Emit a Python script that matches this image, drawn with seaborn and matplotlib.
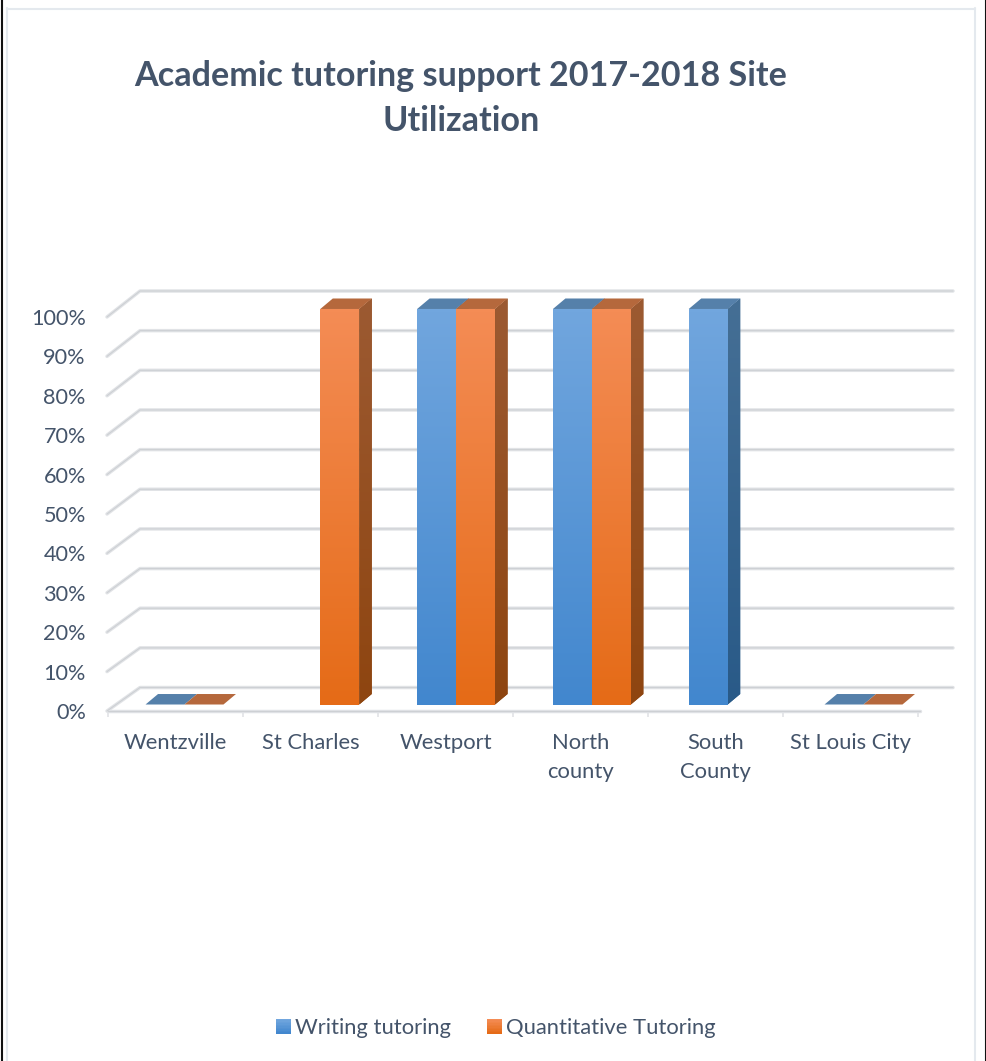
import numpy as np
import pandas as pd
import matplotlib
matplotlib.use("Agg")
import matplotlib.pyplot as plt
import seaborn as sns
from matplotlib.lines import Line2D
from matplotlib.patches import Polygon, Rectangle
from matplotlib.legend_handler import HandlerBase
from matplotlib.colors import LinearSegmentedColormap

# Site utilisation; NaN marks a service with no entry at that site
sites = ["Wentzville", "St Charles", "Westport", "North\ncounty", "South\nCounty", "St Louis City"]
writing = [0, np.nan, 100, 100, 100, 0]
quantitative = [0, 100, 100, 100, np.nan, 0]
services = ["Writing tutoring", "Quantitative Tutoring"]
percent_ticks = [0, 10, 20, 30, 40, 50, 60, 70, 80, 90, 100]
title = "Academic tutoring support 2017-2018 Site\nUtilization"

W, H = 986, 1061
TEXT = "#44546A"
FONT = "Lato"
GRID = "#E1E3E6"
GRID_DARK = "#CDD0D4"
palette = {
    services[0]: dict(top="#71A6DE", bottom="#4287CE", side_top="#456F95", side_bottom="#295A88", cap="#5580AA"),
    services[1]: dict(top="#F48C55", bottom="#E56B17", side_top="#9C5A32", side_bottom="#8E4510", cap="#B5683C"),
}

sns.set_theme(style="white")
plt.rcParams["font.family"] = [FONT, "DejaVu Sans"]

fig = plt.figure(figsize=(W / 100, H / 100), dpi=100, facecolor="white")
ax = fig.add_axes([108 / W, 1 - 711 / H, (918 - 108) / W, (711 - 291) / H])

# Pixel layout of the drawing area
def to_x(px):
    return (px - 184.5) / 135.8

def to_y(py):
    return (705 - py) / 3.96

table = pd.DataFrame({"site": sites, services[0]: writing, services[1]: quantitative})
long_table = table.melt(id_vars="site", var_name="service", value_name="share")
sns.barplot(
    data=long_table, x="site", y="share", hue="service", order=sites, hue_order=services,
    palette={s: palette[s]["bottom"] for s in services}, width=0.574, gap=0, dodge=True,
    legend=False, ax=ax, zorder=4, linewidth=0,
)

xlim = (to_x(108), to_x(918))
ylim = (to_y(711), to_y(291))

# Back wall gridlines and their returns towards the value labels
def grid_line(xs, ys):
    ax.add_line(Line2D(xs, ys, color=GRID, lw=2.5, clip_on=False, zorder=1, solid_capstyle="round"))
    ax.add_line(Line2D(xs, ys, color=GRID_DARK, lw=0.8, clip_on=False, zorder=1.1))

front_y = []
for v in percent_ticks:
    back = 688 - v * 3.97
    front = 711.5 - v * 3.945
    front_y.append(front)
    grid_line([to_x(107), to_x(140), to_x(953)], [to_y(front), to_y(back), to_y(back)])
grid_line([to_x(108), to_x(920)], [to_y(711.5), to_y(711.5)])

DX = 12.5 / 135.8
DY = 10.5 / 3.96

def gradient_fill(points, c_top, c_bottom, zorder):
    poly = Polygon(points, closed=True, facecolor=c_bottom, edgecolor="none", zorder=zorder)
    ax.add_patch(poly)
    xs = [p[0] for p in points]
    ys = [p[1] for p in points]
    cmap = LinearSegmentedColormap.from_list("face", [c_bottom, c_top])
    ramp = np.linspace(1, 0, 128).reshape(-1, 1)
    im = ax.imshow(ramp, cmap=cmap, vmin=0, vmax=1, aspect="auto", interpolation="bilinear",
                   extent=(min(xs), max(xs), min(ys), max(ys)), zorder=zorder + 0.01)
    im.set_clip_path(poly)

# Extrude each seaborn bar with a lit front, a shaded side and a cap
for service, container in zip(services, ax.containers):
    colors = palette[service]
    for bar in container:
        h = bar.get_height()
        if not np.isfinite(h):
            continue
        x0, x1 = bar.get_x(), bar.get_x() + bar.get_width()
        z = 4 + x0 * 0.01
        if h > 0:
            gradient_fill([(x0, 0), (x1, 0), (x1, h), (x0, h)], colors["top"], colors["bottom"], z + 0.02)
            gradient_fill([(x1, 0), (x1 + DX, DY), (x1 + DX, h + DY), (x1, h)],
                          colors["side_top"], colors["side_bottom"], z)
        ax.add_patch(Polygon([(x0, h), (x1, h), (x1 + DX, h + DY), (x0 + DX, h + DY)],
                             closed=True, facecolor=colors["cap"], edgecolor="none", zorder=z + 0.01))

ax.set_xlim(*xlim)
ax.set_ylim(*ylim)
ax.set_xlabel("")
ax.set_ylabel("")
for spine in ax.spines.values():
    spine.set_visible(False)
ax.patch.set_alpha(0)

# Category labels sit under the front floor edge, separators between them
ax.set_xticks([to_x(175.5 + 135 * i) for i in range(len(sites))], labels=sites)
ax.set_xticks([to_x(108 + 135 * i) for i in range(len(sites) + 1)], minor=True)
ax.tick_params(axis="x", which="major", length=0, pad=15.5, labelsize=15.8, labelcolor=TEXT)
ax.tick_params(axis="x", which="minor", length=4.5, width=1.2, color=GRID, bottom=True, direction="out")
for label in ax.get_xticklabels():
    label.set_linespacing(1.6)

ax.set_yticks([to_y(y) for y in front_y], labels=[f"{v}%" for v in percent_ticks])
ax.tick_params(axis="y", length=0, pad=16, labelsize=15.6, labelcolor=TEXT)

fig.text(461 / W, 1 - 98.5 / H, title, ha="center", va="center", fontsize=24.6, fontweight="bold",
         color=TEXT, linespacing=1.53)

# Legend keys carry the same vertical shading as the bars
class GradientKey(HandlerBase):
    def create_artists(self, legend, orig, xd, yd, width, height, fontsize, trans):
        c_top, c_bottom = orig.key_colors
        cmap = LinearSegmentedColormap.from_list("key", [c_top, c_bottom])
        n = 10
        return [
            Rectangle((-xd, -yd + height * (1 - (i + 1) / n)), width, height / n + 0.1,
                      facecolor=cmap(i / (n - 1)), edgecolor="none", transform=trans)
            for i in range(n)
        ]

handles = []
for s in services:
    h = Rectangle((0, 0), 1, 1)
    h.key_colors = (palette[s]["top"], palette[s]["bottom"])
    handles.append(h)
fig.legend(handles, services, handler_map={Rectangle: GradientKey()}, loc="center",
           bbox_to_anchor=(496 / W, 1 - 1028 / H), ncol=2, frameon=False, fontsize=15.85,
           labelcolor=TEXT, handlelength=0.65, handleheight=0.65, handletextpad=0.2, columnspacing=1.65)

# Chart frame and the page edge lines
def frame_line(xs, ys, color, lw):
    fig.add_artist(Line2D([x / W for x in xs], [1 - y / H for y in ys], color=color, lw=lw,
                          transform=fig.transFigure))

frame_line([7, 7], [8, H], "#E4E9EE", 1.5)
frame_line([975, 975], [8, H], "#E4E9EE", 1.5)
frame_line([7, 975], [8.5, 8.5], "#E4E9EE", 1.5)
frame_line([2, 2], [0, H], "#111111", 1.5)
frame_line([985.5, 985.5], [0, H], "#111111", 1.5)

fig.savefig("out.png", dpi=100, facecolor="white")
